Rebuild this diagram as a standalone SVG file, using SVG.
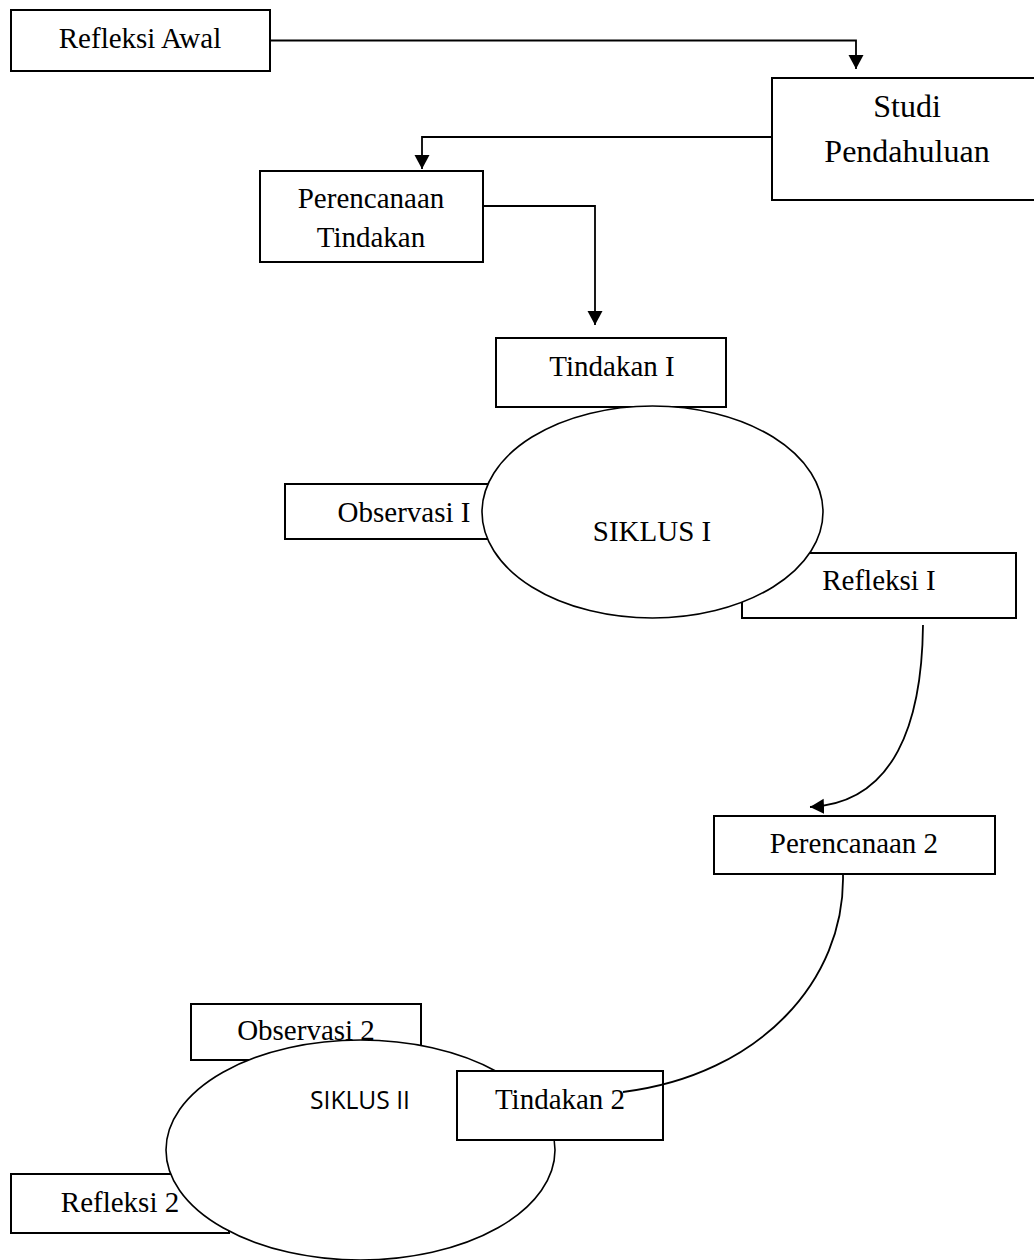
<svg xmlns="http://www.w3.org/2000/svg" width="1034" height="1260" viewBox="0 0 1034 1260">
<style>
.box{fill:#fff;stroke:#000;stroke-width:2}
.ell{fill:#fff;stroke:#000;stroke-width:1.6}
.t{font-family:"Liberation Serif","Times New Roman",serif;font-size:29px;fill:#000;text-anchor:middle}
.big{font-size:32px}
.sans{font-family:"Open Sans","Liberation Sans",sans-serif;font-size:26px;fill:#000;text-anchor:middle}
.conn{fill:none;stroke:#000;stroke-width:1.8}
</style>
<defs>
<marker id="ah" markerUnits="userSpaceOnUse" markerWidth="16" markerHeight="16" refX="14" refY="7.5" orient="auto">
<path d="M0,0 L14,7.5 L0,15 z" fill="#000"/>
</marker>
</defs>
<rect width="1034" height="1260" fill="#fff"/>

<g id="refleksi-awal"><rect class="box" x="11" y="10" width="259" height="61"/><text class="t" x="140" y="48">Refleksi Awal</text></g>
<g id="studi-pendahuluan"><rect class="box" x="772" y="78" width="266" height="122"/><text class="t big" x="907" y="117">Studi</text><text class="t big" x="907" y="162">Pendahuluan</text></g>
<g id="perencanaan-tindakan"><rect class="box" x="260" y="171" width="223" height="91"/><text class="t" x="371" y="208">Perencanaan</text><text class="t" x="371" y="247">Tindakan</text></g>
<g id="tindakan-1"><rect class="box" x="496" y="338" width="230" height="69"/><text class="t" x="612" y="376">Tindakan I</text></g>

<g id="observasi-1"><rect class="box" x="285" y="484" width="238" height="55"/><text class="t" x="404" y="522">Observasi I</text></g>
<g id="refleksi-1"><rect class="box" x="742" y="553" width="274" height="65"/><text class="t" x="879" y="590">Refleksi I</text></g>
<g id="siklus-1"><ellipse class="ell" cx="652.5" cy="512" rx="170.5" ry="106"/><text class="t" x="652" y="541">SIKLUS I</text></g>

<g id="perencanaan-2"><rect class="box" x="714" y="816" width="281" height="58"/><text class="t" x="854" y="853">Perencanaan 2</text></g>

<g id="observasi-2"><rect class="box" x="191" y="1004" width="230" height="56"/></g>
<g id="refleksi-2"><rect class="box" x="11" y="1174" width="218" height="59"/></g>
<g id="siklus-2"><ellipse class="ell" cx="360.5" cy="1150" rx="194.5" ry="110"/><text class="sans" x="360" y="1109" textLength="100" lengthAdjust="spacingAndGlyphs">SIKLUS II</text></g>
<g id="observasi-2-label"><text class="t" x="306" y="1040">Observasi 2</text></g>
<g id="refleksi-2-label"><text class="t" x="120" y="1212">Refleksi 2</text></g>
<g id="tindakan-2"><rect class="box" x="457" y="1071" width="206" height="69"/><text class="t" x="560" y="1109">Tindakan 2</text></g>

<g id="connectors">
<path class="conn" d="M270 40.5 H856 V69" marker-end="url(#ah)"/>
<path class="conn" d="M772 137 H422 V169" marker-end="url(#ah)"/>
<path class="conn" d="M483 206 H595 V325" marker-end="url(#ah)"/>
<path class="conn" d="M923 625 C922 722 895 803 810 807" marker-end="url(#ah)"/>
<path class="conn" d="M843 875 C845 980 760 1075 623 1092"/>
</g>
</svg>
